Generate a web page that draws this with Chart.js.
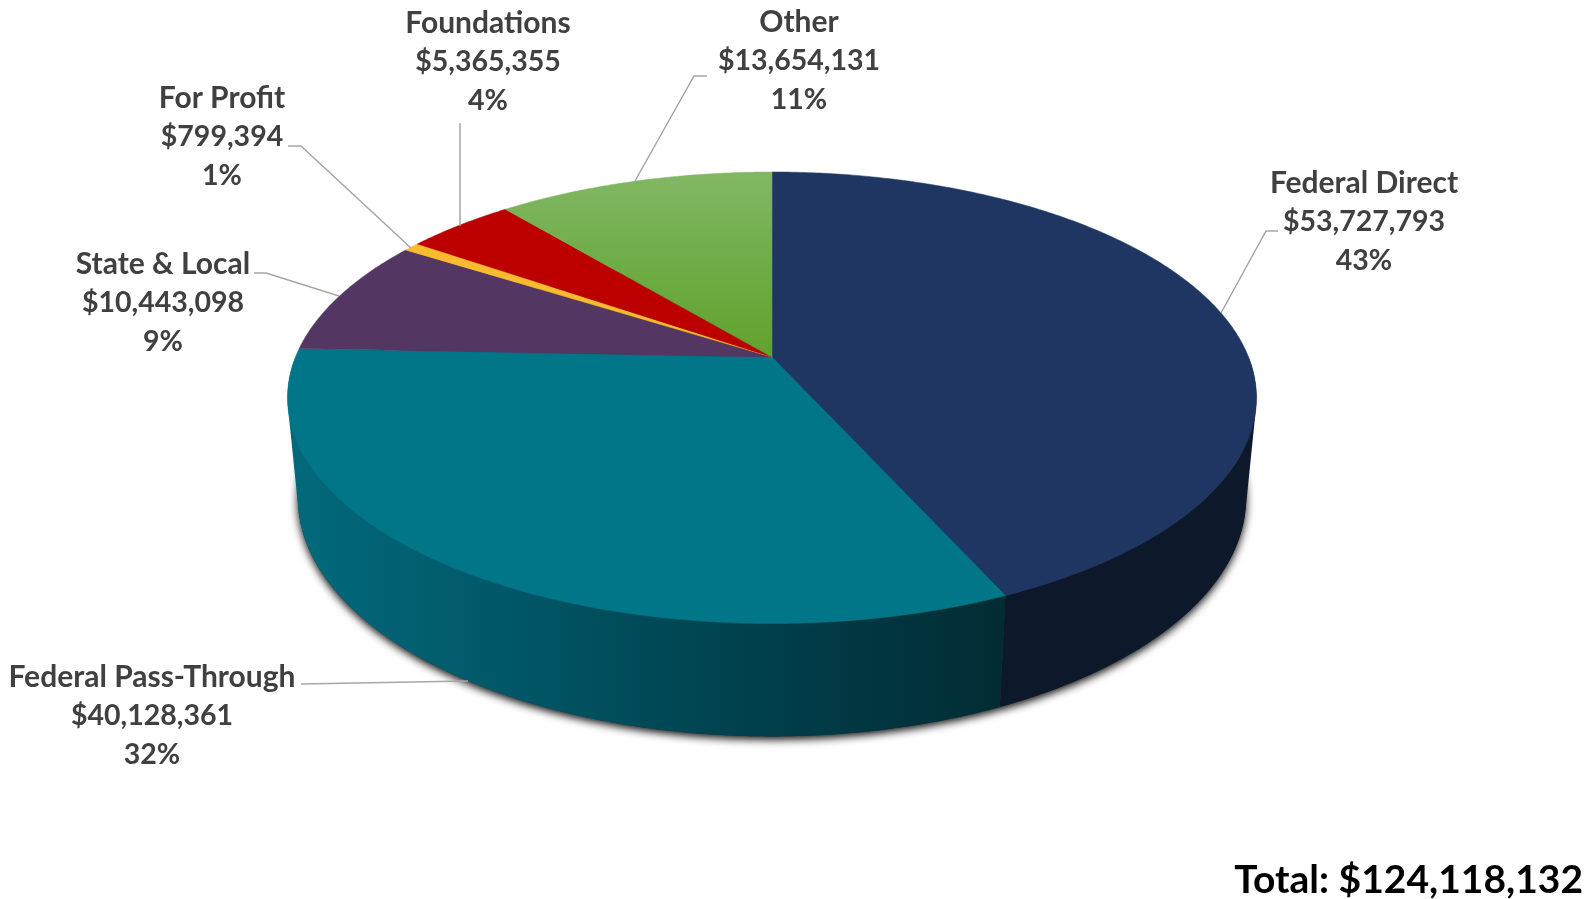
<!DOCTYPE html>
<html>
<head>
<meta charset="utf-8">
<title>Funding sources</title>
<script src="https://cdn.jsdelivr.net/npm/chart.js@4"></script>
<style>
  html, body { margin: 0; padding: 0; background: #fff; }
  canvas { display: block; }
</style>
</head>
<body>
<canvas id="canvas-1" width="1593" height="899"></canvas>
<script>
// values
var categories = ['Federal Direct', 'Federal Pass-Through', 'State & Local', 'For Profit', 'Foundations', 'Other'];
var amounts = [53727793, 40128361, 10443098, 799394, 5365355, 13654131];
var amountLabels = ['$53,727,793', '$40,128,361', '$10,443,098', '$799,394', '$5,365,355', '$13,654,131'];
var percentLabels = ['43%', '32%', '9%', '1%', '4%', '11%'];
var totalLabel = 'Total: $124,118,132';

// colours and label layout, same order as categories
var topColors = ['#1e3661', '#007688', '#543662', '#fbbb2f', '#bc0000', '#6fab45'];
var labelCenters = [[1364, 183], [152, 677], [163, 264], [222, 98], [488, 23], [799, 22]];
var leaderLines = [
  [[1278, 231], [1266, 231], [1221, 313]],
  [[301, 684], [468, 681]],
  [[254, 273], [266, 273], [339, 296]],
  [[288, 146], [301, 146], [411, 248]],
  [[460, 123], [460, 226]],
  [[707, 76], [694, 76], [635, 181]]
];

// perspective of the 3d pie: z=0 is the top face, z=1 the bottom one
var view = { cx: 772, apexY: 357, rx: 476.5, ry: 218.4, tilt: 0.1805, drop: 100.5, shrink: 0.021 };

function project(angle, z) {
  var w = 1 - view.tilt * Math.sin(angle) + view.shrink * z;
  return {
    x: view.cx + view.rx * Math.cos(angle) / w,
    y: view.apexY + (view.ry * Math.sin(angle) + view.drop * z) / w
  };
}

function traceRim(ctx, from, to, z) {
  var steps = Math.max(2, Math.ceil(Math.abs(to - from) / 0.01));
  for (var i = 0; i <= steps; i++) {
    var p = project(from + (to - from) * i / steps, z);
    ctx.lineTo(p.x, p.y);
  }
}

function wallFill(ctx, index) {
  if (index === 0) {
    return '#0d182a';
  }
  var g = ctx.createLinearGradient(298, 0, 1000, 0);
  g.addColorStop(0, '#02697b');
  g.addColorStop(0.3, '#005767');
  g.addColorStop(0.66, '#003f4b');
  g.addColorStop(1, '#022c34');
  return g;
}

function topFill(ctx, index) {
  if (categories[index] !== 'Other') {
    return topColors[index];
  }
  var g = ctx.createLinearGradient(0, 172, 0, 357);
  g.addColorStop(0, '#83b765');
  g.addColorStop(0.5, '#6dad45');
  g.addColorStop(1, '#62a22f');
  return g;
}

// wall made of thin quads so the fold at the widest point stays filled
function drawWall(ctx, from, to) {
  var step = 0.01;
  ctx.beginPath();
  for (var t = from; t < to; t += step) {
    var t2 = Math.min(t + step, to);
    var a = project(t, 0);
    var b = project(t2, 0);
    var c = project(t2, 1);
    var d = project(t, 1);
    // every quad runs the same way round, nonzero fill keeps the union
    var area = (b.x - a.x) * (d.y - a.y) - (b.y - a.y) * (d.x - a.x);
    ctx.moveTo(a.x, a.y);
    if (area > 0) {
      ctx.lineTo(b.x, b.y);
      ctx.lineTo(c.x, c.y);
      ctx.lineTo(d.x, d.y);
    } else {
      ctx.lineTo(d.x, d.y);
      ctx.lineTo(c.x, c.y);
      ctx.lineTo(b.x, b.y);
    }
    ctx.closePath();
  }
  ctx.fill();
}

// Chart.js works out the slice angles, this draws them tilted
var pie3d = {
  id: 'pie3d',
  beforeDatasetsDraw: function (chart) {
    var ctx = chart.ctx;
    var arcs = chart.getDatasetMeta(0).data;
    var i;

    ctx.save();
    ctx.shadowColor = 'rgba(0, 0, 0, 0.95)';
    ctx.shadowBlur = 8;
    ctx.shadowOffsetY = 3;
    ctx.fillStyle = '#333';
    ctx.beginPath();
    traceRim(ctx, 0, Math.PI * 2, 1);
    ctx.closePath();
    ctx.fill();
    ctx.restore();

    // side wall, front half only
    for (i = 0; i < arcs.length; i++) {
      var from = Math.max(arcs[i].startAngle, 0);
      var to = Math.min(arcs[i].endAngle, Math.PI);
      if (to <= from) {
        continue;
      }
      ctx.fillStyle = wallFill(ctx, i);
      drawWall(ctx, from, to);
    }

    // top face
    for (i = 0; i < arcs.length; i++) {
      var fill = topFill(ctx, i);
      ctx.fillStyle = fill;
      ctx.strokeStyle = fill;
      ctx.lineWidth = 0.5;
      ctx.beginPath();
      ctx.moveTo(view.cx, view.apexY);
      traceRim(ctx, arcs[i].startAngle, arcs[i].endAngle, 0);
      ctx.closePath();
      ctx.fill();
      ctx.stroke();
    }
    return false;
  },
  afterDraw: function (chart) {
    var ctx = chart.ctx;
    ctx.save();

    ctx.strokeStyle = '#a6a6a6';
    ctx.lineWidth = 1.5;
    leaderLines.forEach(function (line) {
      ctx.beginPath();
      line.forEach(function (pt) {
        ctx.lineTo(pt[0], pt[1]);
      });
      ctx.stroke();
    });

    ctx.fillStyle = '#404040';
    ctx.textAlign = 'center';
    ctx.textBaseline = 'middle';
    categories.forEach(function (name, i) {
      var c = labelCenters[i];
      ctx.font = 'bold 30px Lato';
      ctx.fillText(name, c[0], c[1]);
      // Lato digits run wider than the originals
      ctx.font = 'bold 28.5px Lato';
      ctx.fillText(amountLabels[i], c[0], c[1] + 39);
      ctx.fillText(percentLabels[i], c[0], c[1] + 78);
    });

    ctx.fillStyle = '#000';
    ctx.font = 'bold 39px Lato';
    ctx.textAlign = 'right';
    ctx.fillText(totalLabel, 1583, 880);
    ctx.restore();
  }
};

var pieChart = new Chart(document.getElementById('canvas-1'), {
  type: 'pie',
  data: {
    labels: categories,
    datasets: [{
      data: amounts,
      backgroundColor: topColors,
      borderWidth: 0
    }]
  },
  options: {
    responsive: false,
    animation: false,
    plugins: {
      legend: { display: false },
      tooltip: { enabled: false }
    }
  },
  plugins: [pie3d]
});
</script>
</body>
</html>
